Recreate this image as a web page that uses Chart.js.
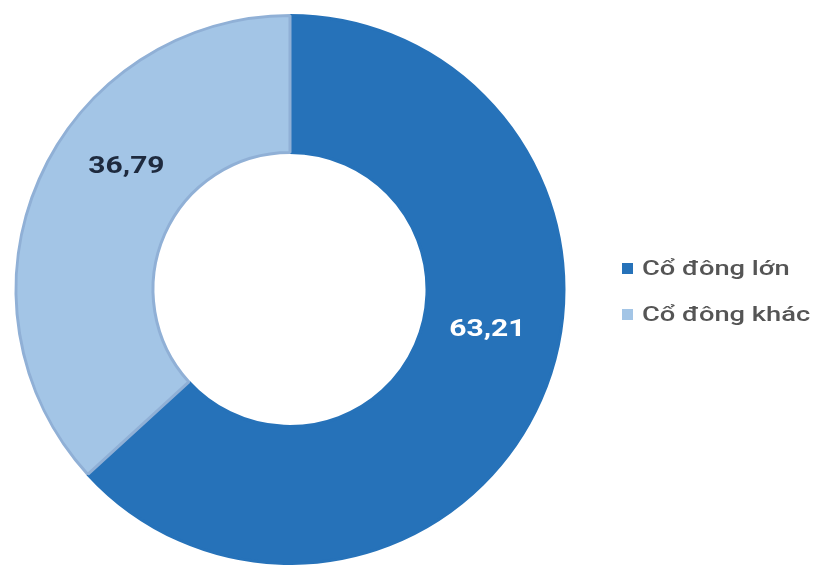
<!DOCTYPE html>
<html>
<head>
<meta charset="utf-8">
<script src="https://cdn.jsdelivr.net/npm/chart.js@4.4.1/dist/chart.umd.min.js"></script>
<style>
  html, body { margin: 0; padding: 0; background: #fff; }
  #wrap { position: relative; width: 818px; height: 565px; }
  #legend { position: absolute; left: 622px; top: 254px; font-family: Roboto, sans-serif; font-size: 21px; font-weight: 500; color: #555; }
  #legend .item { display: flex; align-items: center; height: 28px; margin-bottom: 18px; white-space: nowrap; }
  #legend .box { width: 11px; height: 11px; margin-right: 9px; flex: none; }
  #legend .txt { display: inline-block; transform: scaleX(1.3); transform-origin: left center; }
</style>
</head>
<body>
<div id="wrap">
  <canvas id="shareChart" width="818" height="565"></canvas>
  <div id="legend"></div>
</div>
<script>
const labels = ['Cổ đông lớn', 'Cổ đông khác'];
const shares = [63.21, 36.79];
const colors = ['#2672b9', '#a3c5e6'];
const borders = ['#2672b9', '#90b0d6'];
const labelColors = ['#ffffff', '#1e2a3e'];

// where each value label sits inside its slice (fraction of sweep, fraction of ring width)
const labelSpots = [[0.446, 0.47], [0.598, 0.49]];

const sliceLabels = {
  id: 'sliceLabels',
  afterDatasetsDraw(chart) {
    const ctx = chart.ctx;
    const meta = chart.getDatasetMeta(0);
    meta.data.forEach((arc, i) => {
      const p = arc.getProps(['x', 'y', 'startAngle', 'endAngle', 'innerRadius', 'outerRadius'], true);
      const a = p.startAngle + labelSpots[i][0] * (p.endAngle - p.startAngle);
      const r = p.innerRadius + labelSpots[i][1] * (p.outerRadius - p.innerRadius);
      ctx.save();
      ctx.translate(p.x + r * Math.cos(a), p.y + r * Math.sin(a));
      ctx.scale(1.25, 1);  // wide lettering
      ctx.font = 'bold 24px Roboto, sans-serif';
      ctx.textAlign = 'center';
      ctx.textBaseline = 'middle';
      ctx.fillStyle = labelColors[i];
      ctx.fillText(shares[i].toFixed(2).replace('.', ','), 0, 0);
      ctx.restore();
    });
  }
};

const chart = new Chart(document.getElementById('shareChart'), {
  type: 'doughnut',
  data: {
    labels: labels,
    datasets: [{
      data: shares,
      backgroundColor: colors,
      borderColor: borders,
      borderWidth: 3
    }]
  },
  options: {
    responsive: false,
    animation: false,
    cutout: '50%',
    layout: { padding: { left: 14, top: 14, right: 252, bottom: 0 } },
    plugins: {
      legend: { display: false },
      tooltip: { enabled: false }
    }
  },
  plugins: [sliceLabels]
});

// legend on the right
const legendEl = document.getElementById('legend');
labels.forEach((name, i) => {
  const item = document.createElement('div');
  item.className = 'item';
  const box = document.createElement('span');
  box.className = 'box';
  box.style.background = colors[i];
  const txt = document.createElement('span');
  txt.className = 'txt';
  txt.textContent = name;
  item.appendChild(box);
  item.appendChild(txt);
  legendEl.appendChild(item);
});
</script>
</body>
</html>
